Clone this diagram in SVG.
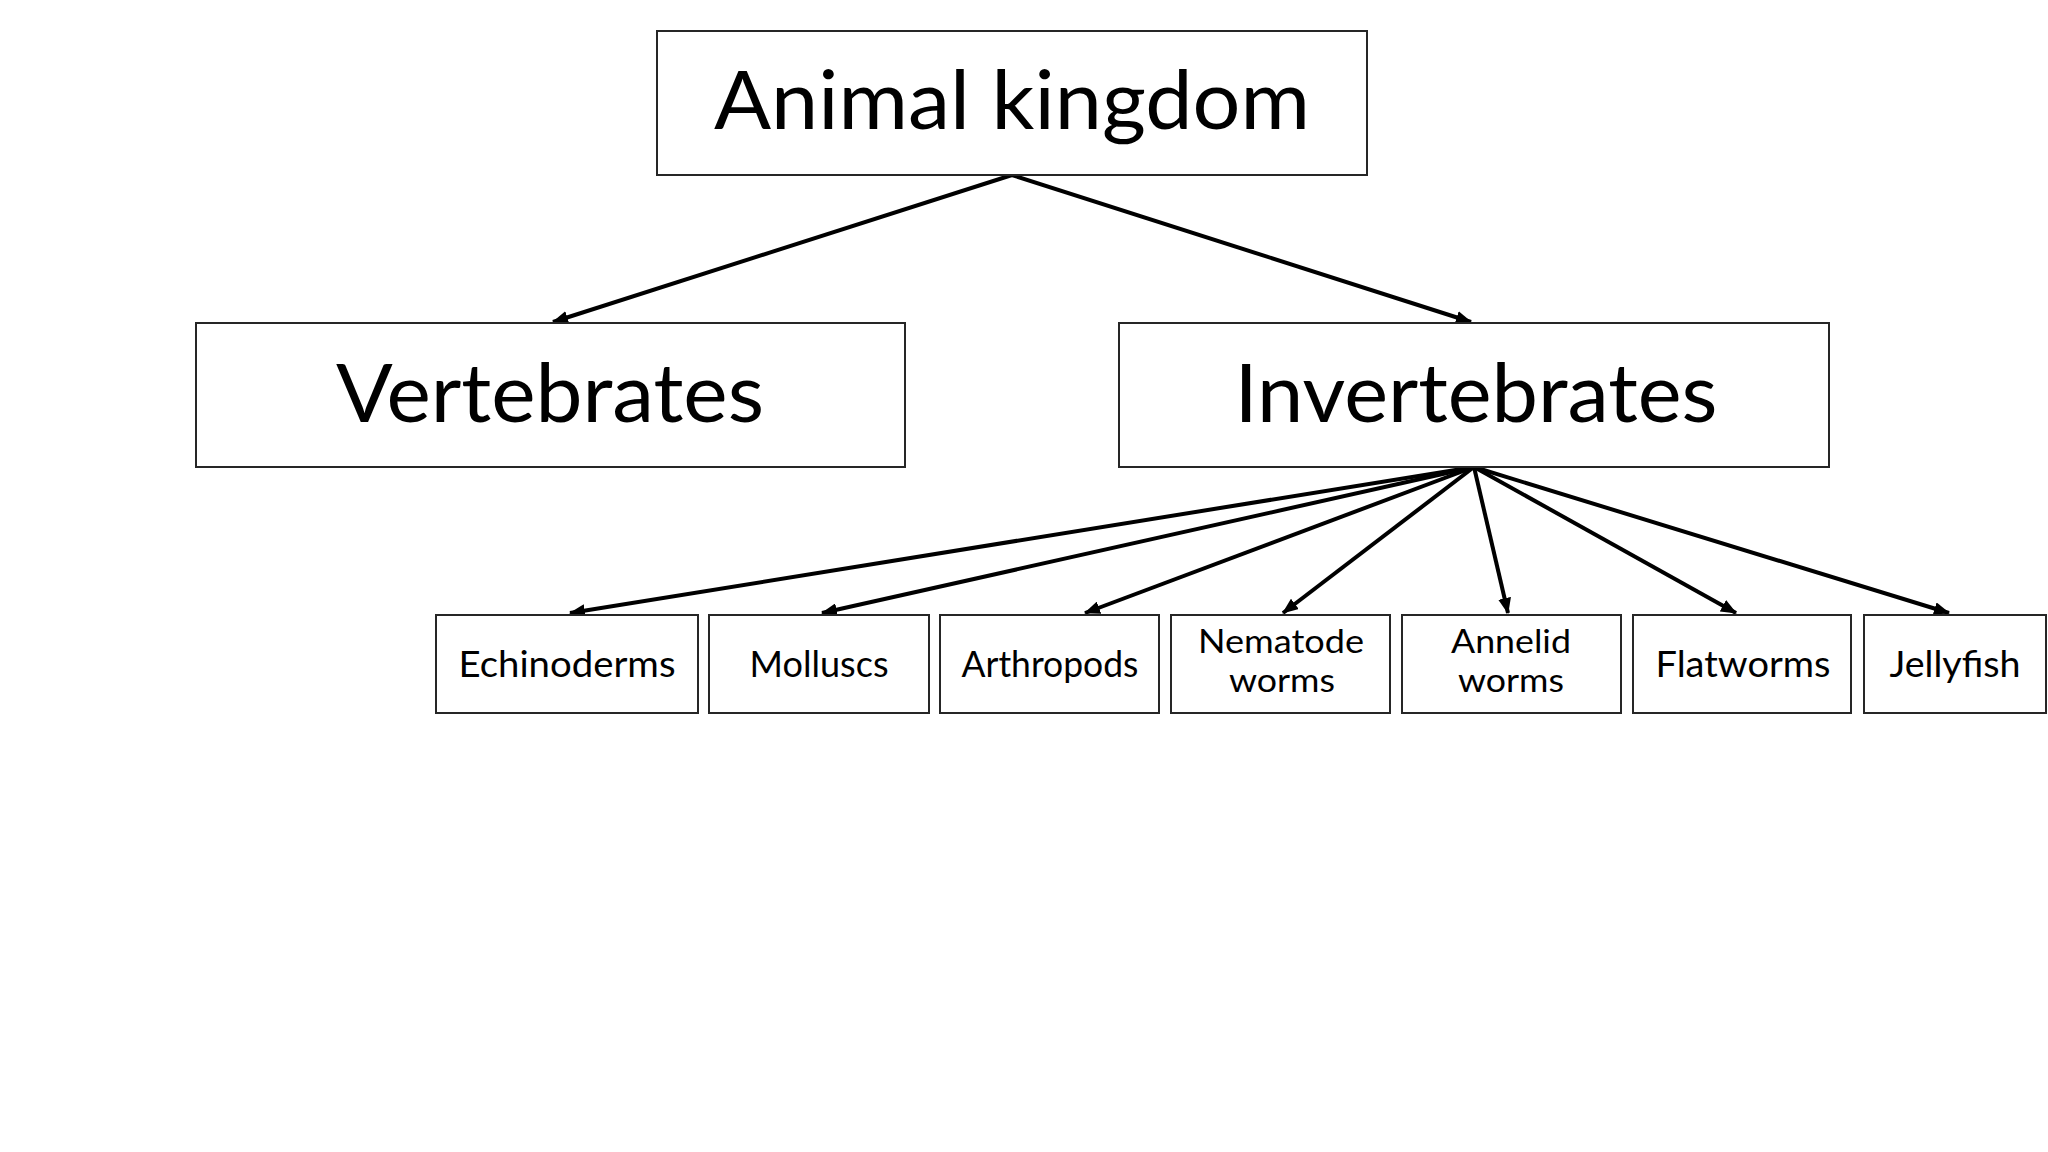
<svg xmlns="http://www.w3.org/2000/svg" width="2048" height="1152" viewBox="0 0 2048 1152">
<defs>
<style>
.box{fill:#fff;stroke:#262626;stroke-width:2}
.big{font-family:Lato,"Open Sans",sans-serif;font-size:82px;fill:#000;text-anchor:middle}
.small{font-family:Lato,"Open Sans",sans-serif;font-size:37px;fill:#000;text-anchor:middle}
.two{font-family:Lato,"Open Sans",sans-serif;font-size:32px;fill:#000;text-anchor:middle}
.edge{stroke:#000;stroke-width:4;fill:none;marker-end:url(#arrow)}
</style>
<marker id="arrow" markerUnits="userSpaceOnUse" viewBox="0 0 16 13" markerWidth="16" markerHeight="13" refX="15" refY="6.5" orient="auto">
<path d="M0,0 L16,6.5 L0,13 Z" fill="#000"/>
</marker>
</defs>
<rect width="2048" height="1152" fill="#fff"/>
<g id="connectors">
<line class="edge" x1="1012" y1="175" x2="553" y2="322"/>
<line class="edge" x1="1012" y1="175" x2="1471" y2="322"/>
<line class="edge" x1="1474" y1="467" x2="570" y2="613"/>
<line class="edge" x1="1474" y1="467" x2="822" y2="613"/>
<line class="edge" x1="1474" y1="467" x2="1085" y2="613"/>
<line class="edge" x1="1474" y1="467" x2="1283" y2="613"/>
<line class="edge" x1="1474" y1="467" x2="1508" y2="613"/>
<line class="edge" x1="1474" y1="467" x2="1736" y2="613"/>
<line class="edge" x1="1474" y1="467" x2="1949" y2="613"/>
</g>
<g id="animal-kingdom">
<rect class="box" x="657" y="31" width="710" height="144"/>
<text class="big" x="1012" y="129" textLength="596" lengthAdjust="spacingAndGlyphs">Animal kingdom</text>
</g>
<g id="vertebrates">
<rect class="box" x="196" y="323" width="709" height="144"/>
<text class="big" x="550" y="422" textLength="428" lengthAdjust="spacingAndGlyphs">Vertebrates</text>
</g>
<g id="invertebrates">
<rect class="box" x="1119" y="323" width="710" height="144"/>
<text class="big" x="1476" y="422" textLength="483" lengthAdjust="spacingAndGlyphs">Invertebrates</text>
</g>
<g id="echinoderms">
<rect class="box" x="436" y="615" width="262" height="98"/>
<text class="small" x="567" y="677" textLength="217" lengthAdjust="spacingAndGlyphs">Echinoderms</text>
</g>
<g id="molluscs">
<rect class="box" x="709" y="615" width="220" height="98"/>
<text class="small" x="819" y="677" textLength="139" lengthAdjust="spacingAndGlyphs">Molluscs</text>
</g>
<g id="arthropods">
<rect class="box" x="940" y="615" width="219" height="98"/>
<text class="small" x="1050" y="677" textLength="177" lengthAdjust="spacingAndGlyphs">Arthropods</text>
</g>
<g id="nematode-worms">
<rect class="box" x="1171" y="615" width="219" height="98"/>
<text class="two" x="1281" y="653" textLength="166" lengthAdjust="spacingAndGlyphs">Nematode</text>
<text class="two" x="1282" y="692" textLength="106" lengthAdjust="spacingAndGlyphs">worms</text>
</g>
<g id="annelid-worms">
<rect class="box" x="1402" y="615" width="219" height="98"/>
<text class="two" x="1511" y="653" textLength="120" lengthAdjust="spacingAndGlyphs">Annelid</text>
<text class="two" x="1511" y="692" textLength="106" lengthAdjust="spacingAndGlyphs">worms</text>
</g>
<g id="flatworms">
<rect class="box" x="1633" y="615" width="218" height="98"/>
<text class="small" x="1743" y="677" textLength="175" lengthAdjust="spacingAndGlyphs">Flatworms</text>
</g>
<g id="jellyfish">
<rect class="box" x="1864" y="615" width="182" height="98"/>
<text class="small" x="1955" y="677" textLength="131" lengthAdjust="spacingAndGlyphs">Jellyfish</text>
</g>
</svg>
